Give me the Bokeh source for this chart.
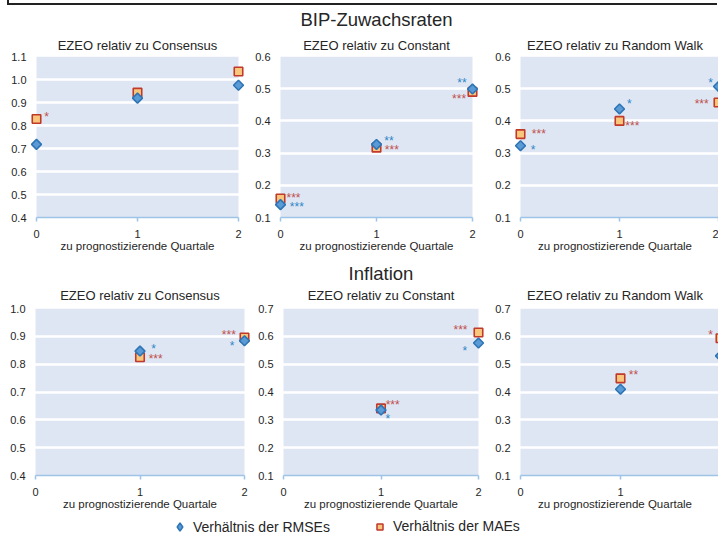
import math
from bokeh.plotting import figure
from bokeh.models import (Range1d, FixedTicker, NumeralTickFormatter, Title, Legend,
                          LegendItem, Div, BoxAnnotation)
from bokeh.layouts import column, row
from bokeh.core.properties import value
from bokeh.embed import file_html
from bokeh.resources import INLINE

FONT = "Liberation Sans"

# ---------------- data ----------------
x_ticks = [0, 1, 2]
x_label = "zu prognostizierende Quartale"
section_bip = "BIP-Zuwachsraten"
section_infl = "Inflation"
sub_titles = ["EZEO relativ zu Consensus", "EZEO relativ zu Constant", "EZEO relativ zu Random Walk"]
legend_labels = ["Verhältnis der RMSEs", "Verhältnis der MAEs"]

# BIP-Zuwachsraten
bip_q = [0, 1, 2]
bip_cons_rmse = [0.718, 0.919, 0.975]
bip_cons_mae = [0.828, 0.943, 1.035]
bip_const_rmse = [0.140, 0.327, 0.499]
bip_const_mae = [0.159, 0.317, 0.490]
bip_rw_rmse = [0.323, 0.437, 0.507]
bip_rw_mae = [0.359, 0.400, 0.457]

bip_cons_yticks = [0.4, 0.5, 0.6, 0.7, 0.8, 0.9, 1.0, 1.1]
bip_const_yticks = [0.1, 0.2, 0.3, 0.4, 0.5, 0.6]
bip_rw_yticks = [0.1, 0.2, 0.3, 0.4, 0.5, 0.6]

# Inflation
infl_q = [1, 2]
infl_cons_rmse = [0.847, 0.884]
infl_cons_mae = [0.825, 0.896]
infl_const_rmse = [0.335, 0.576]
infl_const_mae = [0.341, 0.614]
infl_rw_rmse = [0.410, 0.530]
infl_rw_mae = [0.449, 0.593]

infl_cons_yticks = [0.4, 0.5, 0.6, 0.7, 0.8, 0.9, 1.0]
infl_const_yticks = [0.1, 0.2, 0.3, 0.4, 0.5, 0.6, 0.7]
infl_rw_yticks = [0.1, 0.2, 0.3, 0.4, 0.5, 0.6, 0.7]

# significance stars (x, y, label)
bip_cons_star_rmse_x, bip_cons_star_rmse_y, bip_cons_star_rmse_s = [], [], []
bip_cons_star_mae_x, bip_cons_star_mae_y, bip_cons_star_mae_s = [0.10], [0.850], ["*"]
bip_const_star_rmse_x, bip_const_star_rmse_y, bip_const_star_rmse_s = [0.17, 1.13, 1.89], [0.141, 0.346, 0.526], ["***", "**", "**"]
bip_const_star_mae_x, bip_const_star_mae_y, bip_const_star_mae_s = [0.135, 1.16, 1.86], [0.169, 0.319, 0.477], ["***", "***", "***"]
bip_rw_star_rmse_x, bip_rw_star_rmse_y, bip_rw_star_rmse_s = [0.128, 1.10, 1.92], [0.318, 0.462, 0.528], ["*", "*", "*"]
bip_rw_star_mae_x, bip_rw_star_mae_y, bip_rw_star_mae_s = [0.185, 1.13, 1.83], [0.370, 0.394, 0.463], ["***", "***", "***"]

infl_cons_star_rmse_x, infl_cons_star_rmse_y, infl_cons_star_rmse_s = [1.13, 1.88], [0.865, 0.876], ["*", "*"]
infl_cons_star_mae_x, infl_cons_star_mae_y, infl_cons_star_mae_s = [1.15, 1.85], [0.828, 0.917], ["***", "***"]
infl_const_star_rmse_x, infl_const_star_rmse_y, infl_const_star_rmse_s = [1.07, 1.86], [0.314, 0.558], ["*", "*"]
infl_const_star_mae_x, infl_const_star_mae_y, infl_const_star_mae_s = [1.12, 1.815], [0.364, 0.633], ["***", "***"]
infl_rw_star_rmse_x, infl_rw_star_rmse_y, infl_rw_star_rmse_s = [], [], []
infl_rw_star_mae_x, infl_rw_star_mae_y, infl_rw_star_mae_s = [1.13, 1.90], [0.473, 0.617], ["**", "*"]

# ---------------- style ----------------
BAND = "#dfe6f3"
AXIS_BLUE = "#9dc3e6"
DIA_FILL = "#5b9bd5"
DIA_LINE = "#2e75b6"
SQ_FILL = "#f9c77c"
SQ_LINE = "#c0392b"
STAR_BLUE = "#2e86c8"
STAR_RED = "#c0504d"
TXT = "#262626"
PAD = 9


def panel(sub_title, q, rmse, mae, sr, sm, yticks, geom, section=None):
    x0, w, h, band_l, band_r, b_top, b_bot, sub_so, sec_so = geom
    ppu = (band_r - band_l) / 2.0
    frame_l = band_l - PAD
    frame_r = min(band_r + PAD, x0 + w)
    x_start = -PAD / ppu
    x_end = 2 + (frame_r - band_r) / ppu
    p = figure(width=w, height=h, output_backend="svg", toolbar_location=None,
               x_range=Range1d(x_start, x_end), y_range=Range1d(yticks[0], yticks[-1]),
               min_border_left=frame_l - x0, min_border_right=x0 + w - frame_r,
               min_border_top=b_top, min_border_bottom=b_bot,
               background_fill_color="white", border_fill_color="white",
               outline_line_color=None, title=None)
    p.add_layout(BoxAnnotation(left=0, right=2, fill_color=BAND, fill_alpha=1,
                               line_color=None, level="image"))
    p.add_layout(Title(text=sub_title, align="center", text_font=FONT,
                       text_font_size="13px", text_font_style="normal",
                       text_color=TXT, standoff=sub_so), "above")
    if section:
        p.add_layout(Title(text=section, align="center", text_font=FONT,
                           text_font_size="18.5px", text_font_style="normal",
                           text_color=TXT, standoff=sec_so), "above")
    # axes
    p.xaxis.ticker = FixedTicker(ticks=x_ticks)
    p.xaxis.bounds = (0, 2)
    p.xaxis.axis_line_color = AXIS_BLUE
    p.xaxis.axis_line_width = 1.5
    p.xaxis.major_tick_line_color = AXIS_BLUE
    p.xaxis.major_tick_line_width = 1.5
    p.xaxis.major_tick_out = 4
    p.xaxis.major_tick_in = 0
    p.xaxis.minor_tick_line_color = None
    p.xaxis.major_label_standoff = 8
    p.xaxis.major_label_text_font = FONT
    p.xaxis.major_label_text_font_size = "11px"
    p.xaxis.major_label_text_color = TXT
    p.xaxis.axis_label = x_label
    p.xaxis.axis_label_text_font = FONT
    p.xaxis.axis_label_text_font_size = "11.5px"
    p.xaxis.axis_label_text_font_style = "normal"
    p.xaxis.axis_label_text_color = TXT
    p.xaxis.axis_label_standoff = -1

    p.yaxis.ticker = FixedTicker(ticks=yticks)
    p.yaxis.formatter = NumeralTickFormatter(format="0.0")
    p.yaxis.axis_line_color = None
    p.yaxis.major_tick_line_color = None
    p.yaxis.minor_tick_line_color = None
    p.yaxis.major_tick_out = 0
    p.yaxis.major_label_standoff = 1
    p.yaxis.major_label_text_font = FONT
    p.yaxis.major_label_text_font_size = "11px"
    p.yaxis.major_label_text_color = TXT

    p.xgrid.visible = False
    p.ygrid.grid_line_color = "white"
    p.ygrid.grid_line_width = 2.5

    # data
    p.scatter(x=q, y=mae, marker="square", size=8.5, fill_color=SQ_FILL,
              line_color=SQ_LINE, line_width=1.6)
    p.scatter(x=q, y=rmse, marker="square", angle=math.pi / 4, size=7,
              fill_color=DIA_FILL, line_color=DIA_LINE, line_width=1.6)
    for (sx, sy, ss), col in ((sr, STAR_BLUE), (sm, STAR_RED)):
        if sx:
            p.text(x=sx, y=sy, text=ss, text_font=value(FONT), text_font_size="12px",
                   text_color=col, text_align="center", text_baseline="middle",
                   y_offset=3)
    return p


row1_geom = [(0, 250, 250, 36, 238, 49, 38, 7.5, 3),
             (250, 240, 250, 280, 472, 49, 38, 7.5, 3),
             (490, 228, 250, 520, 718, 49, 38, 7.5, 3)]
row2_geom = [(0, 254, 260, 35, 244, 53, 40, 11, -6),
             (254, 238, 260, 283, 478, 53, 40, 11, -6),
             (492, 226, 260, 520, 720, 53, 40, 11, -6)]

p1 = panel(sub_titles[0], bip_q, bip_cons_rmse, bip_cons_mae,
           (bip_cons_star_rmse_x, bip_cons_star_rmse_y, bip_cons_star_rmse_s),
           (bip_cons_star_mae_x, bip_cons_star_mae_y, bip_cons_star_mae_s),
           bip_cons_yticks, row1_geom[0])
p2 = panel(sub_titles[1], bip_q, bip_const_rmse, bip_const_mae,
           (bip_const_star_rmse_x, bip_const_star_rmse_y, bip_const_star_rmse_s),
           (bip_const_star_mae_x, bip_const_star_mae_y, bip_const_star_mae_s),
           bip_const_yticks, row1_geom[1], section=section_bip)
p3 = panel(sub_titles[2], bip_q, bip_rw_rmse, bip_rw_mae,
           (bip_rw_star_rmse_x, bip_rw_star_rmse_y, bip_rw_star_rmse_s),
           (bip_rw_star_mae_x, bip_rw_star_mae_y, bip_rw_star_mae_s),
           bip_rw_yticks, row1_geom[2])
p4 = panel(sub_titles[0], infl_q, infl_cons_rmse, infl_cons_mae,
           (infl_cons_star_rmse_x, infl_cons_star_rmse_y, infl_cons_star_rmse_s),
           (infl_cons_star_mae_x, infl_cons_star_mae_y, infl_cons_star_mae_s),
           infl_cons_yticks, row2_geom[0])
p5 = panel(sub_titles[1], infl_q, infl_const_rmse, infl_const_mae,
           (infl_const_star_rmse_x, infl_const_star_rmse_y, infl_const_star_rmse_s),
           (infl_const_star_mae_x, infl_const_star_mae_y, infl_const_star_mae_s),
           infl_const_yticks, row2_geom[1], section=section_infl)
p6 = panel(sub_titles[2], infl_q, infl_rw_rmse, infl_rw_mae,
           (infl_rw_star_rmse_x, infl_rw_star_rmse_y, infl_rw_star_rmse_s),
           (infl_rw_star_mae_x, infl_rw_star_mae_y, infl_rw_star_mae_s),
           infl_rw_yticks, row2_geom[2])

# legend strip (the sample renderers hold real values but lie outside the visible range)
lf = figure(width=718, height=22, output_backend="svg", toolbar_location=None,
            x_range=Range1d(0, 1), y_range=Range1d(-3, -2),
            min_border_left=0, min_border_right=0, min_border_top=0, min_border_bottom=0,
            outline_line_color=None, background_fill_color="white", border_fill_color="white")
lf.axis.visible = False
lf.grid.visible = False
r_rmse = lf.scatter(x=bip_q, y=bip_cons_rmse, marker="diamond",
                    fill_color=DIA_FILL, line_color=DIA_LINE, line_width=1.5)
r_mae = lf.scatter(x=bip_q, y=bip_cons_mae, marker="square", fill_color=SQ_FILL,
                   line_color=SQ_LINE, line_width=1.5)
leg1 = Legend(items=[LegendItem(label=legend_labels[0], renderers=[r_rmse], index=0)],
              location=(169, 0), glyph_width=21, glyph_height=21, label_standoff=3,
              padding=0, margin=0, border_line_color=None, background_fill_alpha=0,
              label_text_font=FONT, label_text_font_size="14px", label_text_color=TXT)
leg2 = Legend(items=[LegendItem(label=legend_labels[1], renderers=[r_mae], index=0)],
              location=(372, 3), glyph_width=15, glyph_height=15, label_standoff=6,
              padding=0, margin=0, border_line_color=None, background_fill_alpha=0,
              label_text_font=FONT, label_text_font_size="14px", label_text_color=TXT)
lf.add_layout(leg1)
lf.add_layout(leg2)

top_rule = Div(text="", width=710, height=5, margin=(0, 0, 0, 7),
               styles={"border-left": "2px solid #222", "border-bottom": "2px solid #222",
                       "box-sizing": "border-box"})

layout = column(top_rule, row(p1, p2, p3), row(p4, p5, p6), lf)

open("out.html", "w").write(file_html(layout, INLINE))
